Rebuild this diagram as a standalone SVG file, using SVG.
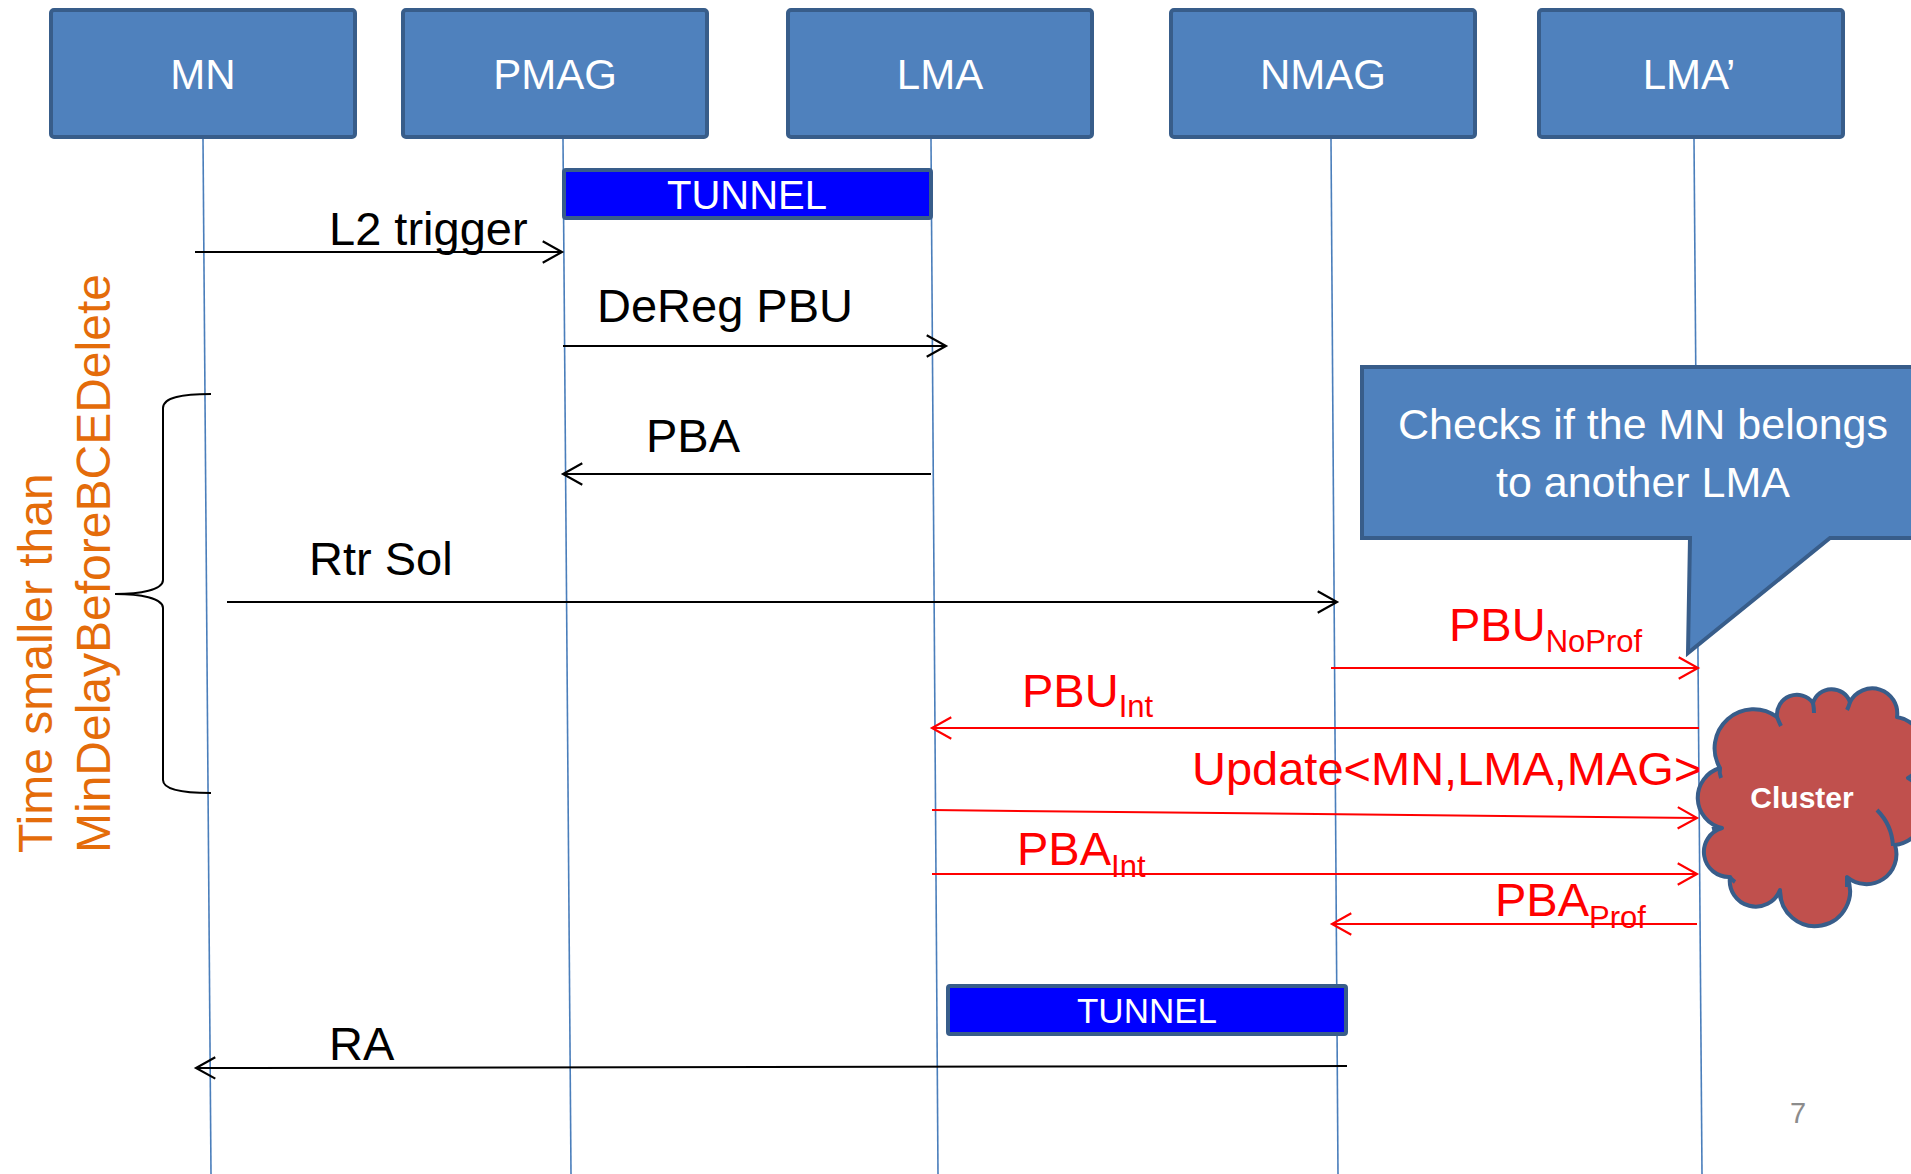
<svg xmlns="http://www.w3.org/2000/svg" width="1911" height="1174" viewBox="0 0 1911 1174">
  <style>
    .box { fill: #4F81BD; stroke: #385D8A; stroke-width: 4; }
    .lbl { font-family: "Liberation Sans", Arial, sans-serif; fill: #FFFFFF; font-size: 42px; text-anchor: middle; }
    .life { stroke: #4A7EBB; stroke-width: 1.6; fill: none; }
    .tun { fill: #0000FF; stroke: #385D8A; stroke-width: 4; }
    .msg { font-family: "Liberation Sans", Arial, sans-serif; font-size: 47px; fill: #000000; }
    .red { fill: #FF0000; }
    .sub { font-size: 31px; }
    .blk { stroke: #000000; stroke-width: 2; fill: none; }
    .rln { stroke: #FF0000; stroke-width: 2; fill: none; }
    .orange { font-family: "Liberation Sans", Arial, sans-serif; font-size: 48px; fill: #E46C0A; }
  </style>
  <defs>
    <marker id="ab" markerUnits="userSpaceOnUse" markerWidth="30" markerHeight="30" viewBox="-22 -14 26 28" refX="0" refY="0" orient="auto">
      <path d="M -18,-10 L 0,0 L -18,10" fill="none" stroke="#000000" stroke-width="2"/>
    </marker>
    <marker id="ar" markerUnits="userSpaceOnUse" markerWidth="30" markerHeight="30" viewBox="-22 -14 26 28" refX="0" refY="0" orient="auto">
      <path d="M -18,-10 L 0,0 L -18,10" fill="none" stroke="#FF0000" stroke-width="2"/>
    </marker>
  </defs>
  <rect width="1911" height="1174" fill="#FFFFFF"/>

  <g id="lifelines">
    <line class="life" x1="203" y1="139" x2="211" y2="1174"/>
    <line class="life" x1="563" y1="139" x2="571" y2="1174"/>
    <line class="life" x1="931" y1="139" x2="938" y2="1174"/>
    <line class="life" x1="1331" y1="139" x2="1338" y2="1174"/>
    <line class="life" x1="1694" y1="139" x2="1702" y2="1174"/>
  </g>

  <g id="node-MN">
    <rect class="box" x="51" y="10" width="304" height="127" rx="3"/>
    <text class="lbl" x="203" y="89">MN</text>
  </g>
  <g id="node-PMAG">
    <rect class="box" x="403" y="10" width="304" height="127" rx="3"/>
    <text class="lbl" x="555" y="89">PMAG</text>
  </g>
  <g id="node-LMA">
    <rect class="box" x="788" y="10" width="304" height="127" rx="3"/>
    <text class="lbl" x="940" y="89">LMA</text>
  </g>
  <g id="node-NMAG">
    <rect class="box" x="1171" y="10" width="304" height="127" rx="3"/>
    <text class="lbl" x="1323" y="89">NMAG</text>
  </g>
  <g id="node-LMA2">
    <rect class="box" x="1539" y="10" width="304" height="127" rx="3"/>
    <text class="lbl" x="1689" y="89">LMA’</text>
  </g>

  <g id="tunnel1">
    <rect class="tun" x="564" y="170" width="367" height="48" rx="2"/>
    <text class="lbl" x="747" y="209" style="font-size:40px">TUNNEL</text>
  </g>
  <g id="tunnel2">
    <rect class="tun" x="948" y="986" width="398" height="48" rx="2"/>
    <text class="lbl" x="1147" y="1023" style="font-size:35px">TUNNEL</text>
  </g>

  <g id="callout">
    <path d="M 1362,367 L 1935,367 L 1935,538 L 1830,538 L 1688,653 L 1690,538 L 1362,538 Z" fill="#4F81BD" stroke="#385D8A" stroke-width="4" stroke-linejoin="miter"/>
    <text class="lbl" x="1643" y="439" style="font-size:43px">Checks if the MN belongs</text>
    <text class="lbl" x="1643" y="497" style="font-size:43px">to another LMA</text>
  </g>

  <g id="cluster">
    <path d="M 1720,768 A 39 39 0 0 1 1777,717 A 20 20 0 0 1 1813,703 A 19.5 19.5 0 0 1 1850,702 A 25 25 0 0 1 1897,717 A 33 33 0 0 1 1908,778 A 36 36 0 0 1 1895,845 A 30 30 0 0 1 1847,877 A 35 35 0 1 1 1780,890 A 26 26 0 0 1 1730,877 A 25 25 0 0 1 1722,828 A 31 31 0 0 1 1720,768 Z" fill="#C0504D" stroke="#385D8A" stroke-width="4" stroke-linejoin="round"/>
    <path d="M 1877,810 Q 1892,825 1893,846" fill="none" stroke="#385D8A" stroke-width="4"/>
    <path d="M 1777,717 Q 1779,722 1781,726" fill="none" stroke="#385D8A" stroke-width="4"/>
    <path d="M 1813,703 Q 1814,708 1814,713" fill="none" stroke="#385D8A" stroke-width="4"/>
    <path d="M 1850,702 Q 1849,706 1847,710" fill="none" stroke="#385D8A" stroke-width="4"/>
    <path d="M 1720,768 Q 1719,773 1721,778" fill="none" stroke="#385D8A" stroke-width="4"/>
    <path d="M 1722,828 Q 1716,828 1712,829" fill="none" stroke="#385D8A" stroke-width="4"/>
    <path d="M 1730,877 Q 1732,880 1735,882" fill="none" stroke="#385D8A" stroke-width="4"/>
    <path d="M 1780,890 Q 1780,895 1781,900" fill="none" stroke="#385D8A" stroke-width="4"/>
    <path d="M 1847,877 Q 1847,882 1847,887" fill="none" stroke="#385D8A" stroke-width="4"/>
    <text x="1802" y="808" style="font-family:'Liberation Sans', Arial, sans-serif; font-size:30px; font-weight:bold; fill:#FFFFFF; text-anchor:middle">Cluster</text>
  </g>

  <g id="brace">
    <path class="blk" d="M 211,394 C 183,394 163,397 163,408 L 163,580 C 163,590 140,594 115,594 C 140,594 163,598 163,608 L 163,780 C 163,790 183,793 211,793"/>
  </g>

  <g id="connectors">
    <line class="blk" x1="195" y1="252" x2="562" y2="252" marker-end="url(#ab)"/>
    <line class="blk" x1="563" y1="346" x2="946" y2="346" marker-end="url(#ab)"/>
    <line class="blk" x1="931" y1="474" x2="563" y2="474" marker-end="url(#ab)"/>
    <line class="blk" x1="227" y1="602" x2="1337" y2="602" marker-end="url(#ab)"/>
    <line class="blk" x1="1347" y1="1066" x2="196" y2="1068" marker-end="url(#ab)"/>
    <line class="rln" x1="1331" y1="668" x2="1698" y2="668" marker-end="url(#ar)"/>
    <line class="rln" x1="1699" y1="728" x2="932" y2="728" marker-end="url(#ar)"/>
    <line class="rln" x1="932" y1="810" x2="1697" y2="818" marker-end="url(#ar)"/>
    <line class="rln" x1="932" y1="874" x2="1697" y2="874" marker-end="url(#ar)"/>
    <line class="rln" x1="1697" y1="924" x2="1332" y2="924" marker-end="url(#ar)"/>
  </g>

  <g id="labels">
    <text class="msg" x="329" y="245">L2 trigger</text>
    <text class="msg" x="597" y="322">DeReg PBU</text>
    <text class="msg" x="646" y="452">PBA</text>
    <text class="msg" x="309" y="575">Rtr Sol</text>
    <text class="msg" x="329" y="1060">RA</text>
    <text class="msg red" x="1449" y="641">PBU<tspan class="sub" y="652">NoProf</tspan></text>
    <text class="msg red" x="1022" y="707">PBU<tspan class="sub" y="717">Int</tspan></text>
    <text class="msg red" x="1192" y="785">Update&lt;MN,LMA,MAG&gt;</text>
    <text class="msg red" x="1017" y="865">PBA<tspan class="sub" y="877">Int</tspan></text>
    <text class="msg red" x="1495" y="916">PBA<tspan class="sub" y="928">Prof</tspan></text>
  </g>

  <g id="time-note">
    <text class="orange" transform="translate(52,853) rotate(-90)">Time smaller than</text>
    <text class="orange" transform="translate(110,853) rotate(-90)">MinDelayBeforeBCEDelete</text>
  </g>

  <text x="1790" y="1123" style="font-family:'Liberation Sans', Arial, sans-serif; font-size:29px; fill:#8C8C8C">7</text>
</svg>
